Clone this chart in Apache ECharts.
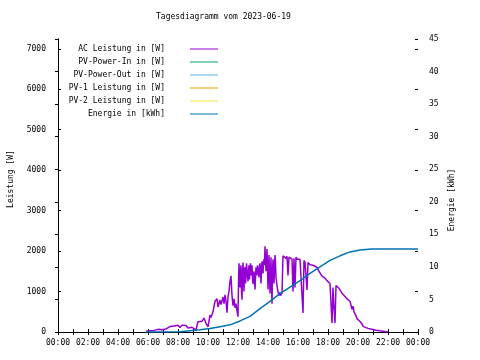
<!DOCTYPE html>
<html><head><meta charset="utf-8">
<script src="https://cdn.jsdelivr.net/npm/echarts@6.0.0/dist/echarts.min.js"></script>
<style>html,body{margin:0;padding:0;background:#fff}#c{width:480px;height:360px}</style>
</head><body><div id="c"></div>
<script>
// ---- data ----
const titleText = 'Tagesdiagramm vom 2023-06-19';
const seriesNames = ['AC Leistung in [W]', 'PV-Power-In in [W]', 'PV-Power-Out in [W]', 'PV-1 Leistung in [W]', 'PV-2 Leistung in [W]', 'Energie in [kWh]'];
// AC power: minutes since midnight / watts
const acMinutes = [352,360,368,376,384,392,400,408,416,424,
  432,440,448,456,464,472,480,488,496,504,
  512,520,528,536,544,552,560,568,576,584,
  592,600,608,612,620,628,636,640,648,652,
  660,664,668,672,676,680,684,688,692,696,
  700,704,708,712,716,
  720,722,724,726,728,730,732,734,736,738,
  740,742,744,746,748,750,752,754,756,758,
  760,762,764,766,768,770,772,774,776,778,
  780,782,784,786,788,790,792,794,796,798,
  800,802,804,806,808,810,812,814,816,818,
  820,822,824,826,828,830,832,834,836,838,
  840,842,844,846,848,850,852,854,856,858,
  860,862,864,866,868,870,872,874,876,878,
  880,882,884,886,888,890,892,894,896,898,
  900,904,908,912,916,920,924,928,932,936,
  940,944,948,952,956,960,964,968,972,976,
  980,984,988,992,996,1000,1004,1008,1012,1016,
  1020,1028,1036,1040,1048,1056,1064,1068,1076,1080,
  1088,1092,1096,1100,1104,1108,1112,1116,1124,1128,
  1136,1140,1148,1156,1160,1168,1172,1176,1180,1184,
  1188,1192,1196,1200,1208,1212,1216,1220,1228,1240,
  1248,1260,1272,1288,1300,1312,1320];
const acWatts = [20,45,30,50,40,55,65,80,55,95,
  75,115,135,95,150,120,165,110,170,125,
  160,100,145,115,75,50,255,230,265,345,
  215,125,420,360,500,760,820,620,790,680,
  860,700,920,760,480,870,1000,1250,1390,900,
  650,820,600,700,520,
  380,1200,1700,1350,1100,1500,1650,1000,800,1450,
  1720,1300,1000,1550,1600,1200,1350,1700,1720,1400,
  1250,1500,1650,1300,1580,1700,1400,1550,1650,1350,
  1180,1450,1500,1300,1050,1350,1600,1500,1400,1650,
  1680,1500,1350,1600,1700,1500,1200,1550,1750,1600,
  1450,1700,1800,1650,2120,1800,1500,1750,2050,1600,
  1050,1500,1900,1400,950,1300,1850,1200,700,1400,
  1800,1550,1200,1600,1900,1700,1350,1250,1150,1050,
  1000,950,900,980,950,900,880,940,960,920,
  1880,1850,1880,1820,1870,1400,1850,1830,1880,1800,
  1000,1820,1100,1850,1800,1830,1760,1800,1780,1820,
  470,1770,1720,1740,1040,1720,1700,1660,1700,1680,
  1650,1620,1600,1540,1500,1380,1350,1330,1270,1230,
  1200,1180,220,1100,600,220,1150,1120,1080,1040,
  960,920,880,820,780,760,720,560,640,500,
  470,400,330,300,260,220,200,140,100,90,
  70,60,45,30,20,8,0];
// Energy: minutes / kWh
const energyMinutes = [352,428,488,528,568,608,648,688,728,768,808,848,888,928,968,1008,1048,1088,1128,1168,1208,1256,1440];
const energyKWh = [0,0,0.05,0.2,0.35,0.55,0.8,1.1,1.7,2.4,3.6,4.7,5.9,6.9,7.9,9.0,10.0,11.0,11.7,12.3,12.6,12.75,12.75];
// series without visible data
const pvInW = [], pvOutW = [], pv1W = [], pv2W = [];
const xTickMinutes = 120; // 2 h
const leftMax = 7243, leftInterval = 1000;
const rightMax = 45, rightInterval = 5;
const leftName = 'Leistung [W]';
const rightName = 'Energie [kWh]';

const colors = ['#9400d3', '#009e73', '#56b4e9', '#e69f00', '#f0e442', '#0072b2'];
const FONT = 'DejaVu Sans Mono';

function pairs(xs, ys) { return xs.map((x, i) => [x, ys[i]]); }
function hhmm(v) { const h = Math.floor(v / 60) % 24; return (h < 10 ? '0' : '') + h + ':00'; }

const chart = echarts.init(document.getElementById('c'), null, { renderer: 'canvas' });
const tick = { show: true, inside: true, length: 3, lineStyle: { color: '#000', width: 1 } };
const line = { show: true, lineStyle: { color: '#000', width: 1 } };
const lbl = { fontFamily: FONT, fontSize: 8, color: '#000' };

const lineSeries = (name, data, color, yIdx, w) => ({
  name, type: 'line', data, yAxisIndex: yIdx, showSymbol: false, symbol: 'none',
  lineStyle: { color, width: w }, itemStyle: { color }, animation: false, silent: true
});

chart.setOption({
  animation: false,
  color: colors,
  title: { text: titleText, left: 156, top: 13, padding: 0,
    textStyle: { fontFamily: FONT, fontSize: 8, fontWeight: 'normal', color: '#000' } },
  legend: {
    data: seriesNames, orient: 'vertical', right: 262, top: 44, padding: 0,
    align: 'right', icon: 'rect', itemWidth: 28, itemHeight: 1, itemGap: 3,
    selectedMode: false,
    textStyle: { fontFamily: FONT, fontSize: 8, color: '#000', lineHeight: 10, padding: [0, 20, 0, 0] }
  },
  grid: { left: 58, right: 62, top: 39, bottom: 28, containLabel: false },
  xAxis: [
    { type: 'value', min: 0, max: 1440, interval: xTickMinutes, position: 'bottom',
      axisLine: line, axisTick: tick, minorTick: { show: true, splitNumber: 2, length: 3, lineStyle: { color: '#000' } },
      splitLine: { show: false }, minorSplitLine: { show: false },
      axisLabel: Object.assign({ margin: 7, formatter: hhmm }, lbl) },
    { type: 'value', min: 0, max: 1440, interval: xTickMinutes, position: 'top',
      axisLine: line, axisTick: tick, minorTick: { show: true, splitNumber: 2, length: 3, lineStyle: { color: '#000' } },
      splitLine: { show: false }, axisLabel: { show: false } }
  ],
  yAxis: [
    { type: 'value', min: 0, max: leftMax, interval: leftInterval, position: 'left',
      axisLine: line, axisTick: tick, splitLine: { show: false },
      axisLabel: Object.assign({ margin: 12, showMaxLabel: false, formatter: v => String(v) }, lbl) },
    { type: 'value', min: 0, max: rightMax, interval: rightInterval, position: 'right',
      axisLine: line, axisTick: tick, splitLine: { show: false },
      axisLabel: Object.assign({ margin: 11, formatter: v => String(v) }, lbl) },
    { type: 'value', min: 0, max: leftMax, interval: leftInterval, position: 'right', offset: 0,
      axisLine: { show: false }, axisTick: tick, splitLine: { show: false },
      axisLabel: { show: false } }
  ],
  graphic: [
    { type: 'text', x: 10.5, y: 179, rotation: Math.PI / 2,
      style: { text: leftName, font: '8px "' + FONT + '"', fill: '#000', align: 'center', verticalAlign: 'middle' } },
    { type: 'text', x: 452, y: 200, rotation: Math.PI / 2,
      style: { text: rightName, font: '8px "' + FONT + '"', fill: '#000', align: 'center', verticalAlign: 'middle' } }
  ],
  series: [
    lineSeries(seriesNames[0], pairs(acMinutes, acWatts), colors[0], 0, 1.5),
    lineSeries(seriesNames[1], pvInW, colors[1], 0, 1.5),
    lineSeries(seriesNames[2], pvOutW, colors[2], 0, 1.5),
    lineSeries(seriesNames[3], pv1W, colors[3], 0, 1.5),
    lineSeries(seriesNames[4], pv2W, colors[4], 0, 1.5),
    lineSeries(seriesNames[5], pairs(energyMinutes, energyKWh), colors[5], 1, 1.5)
  ]
});
</script>
</body></html>
